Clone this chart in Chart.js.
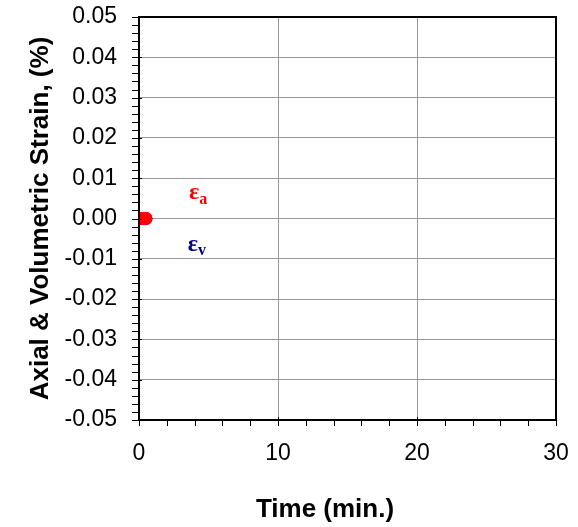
<!DOCTYPE html>
<html>
<head>
<meta charset="utf-8">
<script src="https://cdn.jsdelivr.net/npm/chart.js@4"></script>
<style>
  html, body { margin: 0; padding: 0; background: #fff; }
  #wrap { width: 578px; height: 527px; position: relative; }
</style>
</head>
<body>
<div id="wrap"><canvas id="strainChart"></canvas></div>
<script>
// values
const timeMin = [0, 0.1, 0.2, 0.3, 0.4, 0.5];
const axialStrain = [0, 0, 0, 0, 0, 0];
const volumetricStrain = [0, 0, 0, 0, 0, 0];

const xTicks = [0, 10, 20, 30];
const yTicks = [-0.05, -0.04, -0.03, -0.02, -0.01, 0, 0.01, 0.02, 0.03, 0.04, 0.05];

// curve labels (data coords, baseline-left of the epsilon)
const labelAxial = { x: 3.6, y: 0.0048 };
const labelVol = { x: 3.5, y: -0.0081 };

function toPoints(xs, ys) {
    return xs.map((x, i) => ({ x: x, y: ys[i] }));
}

const frameAndTicks = {
    id: 'frameAndTicks',
    afterDraw(chart) {
        const ctx = chart.ctx;
        const area = chart.chartArea;
        const xs = chart.scales.x;
        const ys = chart.scales.y;

        ctx.save();
        ctx.strokeStyle = '#000';
        ctx.lineWidth = 1;
        // minor + major ticks on y (every 0.002)
        for (let i = 0; i <= 50; i++) {
            const v = -0.05 + i * 0.002;
            const py = Math.round(ys.getPixelForValue(v)) + 0.5;
            const major = i % 5 === 0;
            ctx.beginPath();
            ctx.moveTo(area.left - 7, py);
            ctx.lineTo(area.left + (major ? 3 : 0), py);
            ctx.stroke();
        }
        // ticks on x (every 2 min.)
        for (let i = 0; i <= 15; i++) {
            const px = Math.round(xs.getPixelForValue(i * 2)) + 0.5;
            const major = i % 5 === 0;
            ctx.beginPath();
            ctx.moveTo(px, area.bottom + 6);
            ctx.lineTo(px, area.bottom - (major ? 3 : 0));
            ctx.stroke();
        }
        // frame
        ctx.lineWidth = 2;
        ctx.strokeRect(area.left, area.top, area.right - area.left, area.bottom - area.top);

        // curve labels
        function epsLabel(pos, sub, color, drop) {
            const px = xs.getPixelForValue(pos.x);
            const py = ys.getPixelForValue(pos.y);
            ctx.fillStyle = color;
            ctx.textBaseline = 'alphabetic';
            ctx.textAlign = 'left';
            ctx.font = 'bold 24px "Liberation Serif", "Times New Roman", serif';
            const w = ctx.measureText('\u03b5').width;
            ctx.fillText('\u03b5', px, py);
            ctx.font = 'bold 16px "Liberation Serif", "Times New Roman", serif';
            ctx.fillText(sub, px + w, py + drop);
        }
        epsLabel(labelAxial, 'a', '#ff0000', 5);
        epsLabel(labelVol, 'v', '#000080', 4);

        // x-axis title
        ctx.fillStyle = '#000';
        ctx.font = 'bold 26px "Liberation Sans", Arial, sans-serif';
        ctx.textAlign = 'center';
        ctx.textBaseline = 'middle';
        ctx.fillText('Time (min.)', 325, 510);
        ctx.restore();
    }
};

function createStrainChart() {
    const ctx = document.getElementById('strainChart').getContext('2d');
    Chart.defaults.font.family = '"Liberation Sans", Arial, sans-serif';
    Chart.defaults.color = '#000';

    new Chart(ctx, {
        type: 'scatter',
        data: {
            datasets: [{
                label: 'Axial',
                data: toPoints(timeMin, axialStrain),
                backgroundColor: '#ff0000',
                borderColor: '#ff0000',
                pointRadius: 6.5,
                pointBorderWidth: 0,
                clip: 0
            }, {
                label: 'Volumetric',
                data: toPoints(timeMin, volumetricStrain),
                backgroundColor: '#000080',
                borderColor: '#000080',
                pointRadius: 6.5,
                pointBorderWidth: 0,
                clip: 0
            }]
        },
        options: {
            responsive: true,
            maintainAspectRatio: false,
            animation: false,
            layout: { padding: { top: 17, right: 22, left: 0, bottom: 0 } },
            plugins: {
                legend: { display: false },
                tooltip: { enabled: false }
            },
            scales: {
                x: {
                    type: 'linear',
                    min: 0,
                    max: 30,
                    afterBuildTicks: (scale) => { scale.ticks = xTicks.map(v => ({ value: v })); },
                    afterFit: (scale) => {
                        scale.height = 107;
                        scale.paddingLeft = 0;
                        scale.paddingRight = 0;
                    },
                    grid: { color: '#999', drawTicks: false },
                    border: { display: false },
                    ticks: {
                        padding: 20,
                        font: { size: 23 },
                        maxRotation: 0,
                        callback: (v) => String(v)
                    }
                },
                y: {
                    type: 'linear',
                    min: -0.05,
                    max: 0.05,
                    afterBuildTicks: (scale) => { scale.ticks = yTicks.map(v => ({ value: v })); },
                    afterFit: (scale) => {
                        scale.width = 139;
                        scale.paddingTop = 0;
                        scale.paddingBottom = 0;
                    },
                    grid: { color: '#999', drawTicks: false },
                    border: { display: false },
                    ticks: {
                        padding: 22,
                        font: { size: 23 },
                        callback: (v) => (Math.abs(v) < 1e-9 ? 0 : v).toFixed(2)
                    },
                    title: {
                        display: true,
                        text: 'Axial & Volumetric Strain, (%)',
                        font: { size: 26, weight: 'bold' },
                        padding: { top: 25, bottom: 0 }
                    }
                }
            }
        },
        plugins: [frameAndTicks]
    });
}

document.addEventListener('DOMContentLoaded', createStrainChart);
</script>
</body>
</html>
